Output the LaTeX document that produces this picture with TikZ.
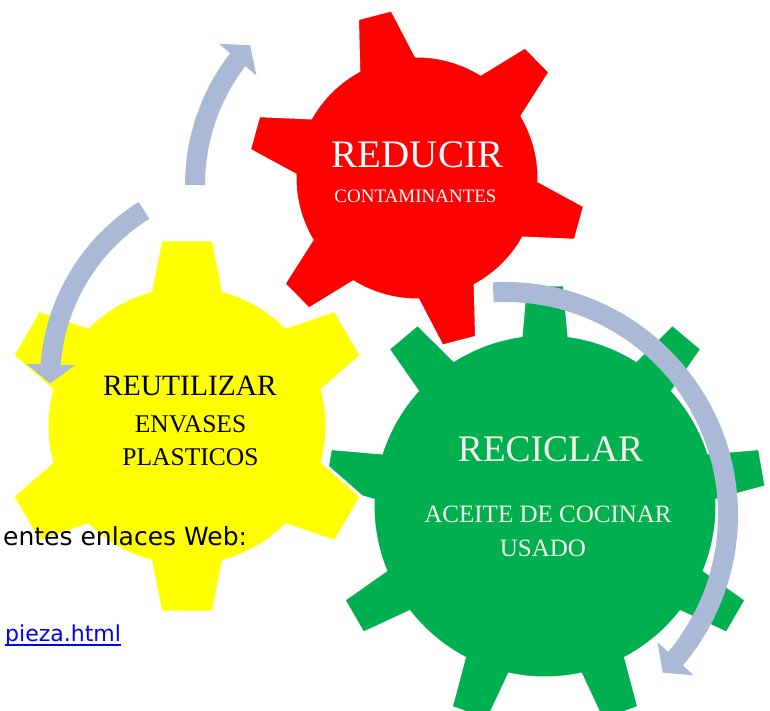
\documentclass[tikz,border=0pt]{standalone}
\usepackage{fontspec}
\setmainfont{Liberation Serif}
\newfontfamily\webfont{DejaVu Sans}
\usetikzlibrary{arrows.meta,bending}

\definecolor{rojo}{RGB}{255,0,0}
\definecolor{amarillo}{RGB}{255,255,0}
\definecolor{verde}{RGB}{0,176,80}
\definecolor{gris}{RGB}{170,185,214}
\definecolor{crema}{RGB}{246,246,232}
\definecolor{enlace}{RGB}{0,0,255}

% color, x, y, radio cuerpo, radio dientes, dientes, angulo inicial, medio ancho base, medio ancho punta
\newcommand{\engranaje}[9]{%
  \filldraw[borde, fill=#1, shift={(#2,#3)}] ({#7-#8}:#4)
    \foreach \k in {1,...,#6}{
      -- ({#7+(\k-1)*360/#6-#9}:#5) -- ({#7+(\k-1)*360/#6+#9}:#5)
      -- ({#7+(\k-1)*360/#6+#8}:#4)
      arc[start angle={#7+(\k-1)*360/#6+#8}, end angle={#7+\k*360/#6-#8}, radius=#4]
    } -- cycle;
}

\begin{document}
\begin{tikzpicture}[x=1pt,y=1pt]

    \tikzset{borde/.style = {draw=white, line width=3pt, line join=miter}}
    \tikzset{flecha/.style = {draw=gris, line width=20pt, -{Triangle[length=19pt,width=48pt]}}}
    \tikzset{rotulo/.style = {inner sep=0pt, anchor=base}}
    \tikzset{web/.style = {inner sep=0pt, anchor=base west}}

    \useasboundingbox (0,0) rectangle (770,711);
    \fill[white] (0,0) rectangle (770,711);
    \clip (0,0) rectangle (770,711);

    %engranajes
    \engranaje{verde}{545}{205}{172}{222}{9}{10}{8}{5}
    \engranaje{rojo}{417}{533}{122}{170}{6}{44.5}{14}{6}
    \engranaje{amarillo}{187}{285}{140}{188}{6}{30}{15}{8}

    %texto de fondo
    \node [web, font=\webfont\fontsize{25}{29}\selectfont] (textoWeb) at (3,165) {entes enlaces Web:};
    \node [web, text=enlace, font=\webfont\fontsize{22}{26}\selectfont]
        (linkLimpieza) at (5,69) {pieza.html};
    \draw [enlace, line width=1.5pt] ([yshift=-3pt]linkLimpieza.base west)
        -- ([yshift=-3pt]linkLimpieza.base east);

    %REDUCIR
    \node [rotulo, text=white, font=\fontsize{39}{44}\selectfont] (reducir) at (417.5,543) {REDUCIR};
    \node [rotulo, text=white, font=\fontsize{19}{22}\selectfont] (contaminantes) at (415.5,508) {CONTAMINANTES};

    %REUTILIZAR
    \node [rotulo, font=\fontsize{29.5}{34}\selectfont] (reutilizar) at (190,315) {REUTILIZAR};
    \node [rotulo, font=\fontsize{25.5}{29}\selectfont] (envases) at (190.5,278) {ENVASES};
    \node [rotulo, font=\fontsize{25.5}{29}\selectfont] (plasticos) at (190.5,245) {PLASTICOS};

    %RECICLAR
    \node [rotulo, text=crema, font=\fontsize{37.5}{42}\selectfont] (reciclar) at (550.5,249) {RECICLAR};
    \node [rotulo, text=crema, font=\fontsize{25}{29}\selectfont] (aceite) at (548,188) {ACEITE DE COCINAR};
    \node [rotulo, text=crema, font=\fontsize{25}{29}\selectfont] (usado) at (543,154) {USADO};

    %flechas
    \coordinate (inicioA) at (195,526);
    \draw [flecha] (inicioA) arc[start angle=180, end angle=137, radius=205];

    \coordinate (inicioB) at ({250+200*cos(122)},{331+200*sin(122)});
    \draw [flecha] (inicioB) arc[start angle=122, end angle=181, radius=200];

    \coordinate (inicioC) at ({505+223*cos(93)},{196+223*sin(93)});
    \draw [flecha] (inicioC) arc[start angle=93, end angle=-45, radius=223];

\end{tikzpicture}
\end{document}
